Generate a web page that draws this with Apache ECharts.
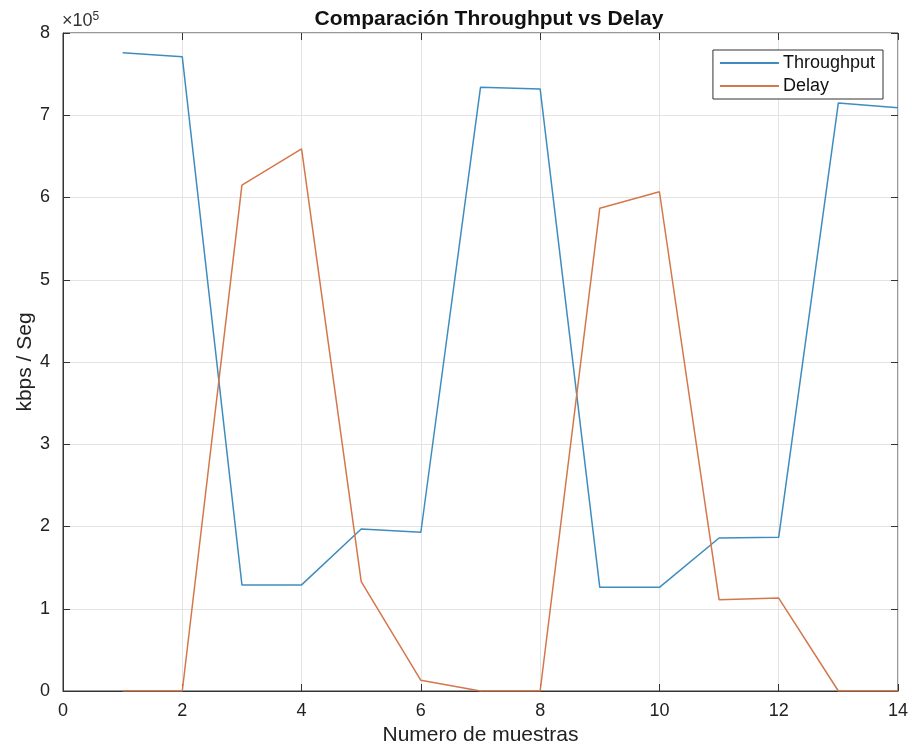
<!DOCTYPE html>
<html>
<head>
<meta charset="utf-8">
<script src="https://cdn.jsdelivr.net/npm/echarts@6/dist/echarts.min.js"></script>
<style>
  html, body { margin: 0; padding: 0; background: #fff; }
  #main { width: 912px; height: 753px; }
</style>
</head>
<body>
<div id="main"></div>
<script>
const samples = [1, 2, 3, 4, 5, 6, 7, 8, 9, 10, 11, 12, 13, 14];
const throughput = [776000, 771000, 129000, 129000, 197000, 193000, 734000, 732000, 126000, 126000, 186000, 187000, 715000, 709000];
const delay = [0, 0, 615000, 659000, 133000, 13000, 0, 0, 587000, 607000, 111000, 113000, 0, 0];
const xTicks = [0, 2, 4, 6, 8, 10, 12, 14];
const yTicks = [0, 1, 2, 3, 4, 5, 6, 7, 8];

const font = 'Liberation Sans, Arial, sans-serif';
const chart = echarts.init(document.getElementById('main'));

const pairs = (ys) => samples.map((x, i) => [x, ys[i]]);

// box axes on top/right: ticks only
const hiddenAxis = {
  axisLine: { show: false, onZero: false },
  axisLabel: { show: false },
  splitLine: { show: false },
  axisTick: { show: true, inside: true, length: 7, lineStyle: { color: '#333' } },
};

chart.setOption({
  animation: false,
  backgroundColor: '#fff',
  title: {
    text: 'Comparación Throughput vs Delay',
    left: 484,
    textAlign: 'center',
    top: 4,
    textStyle: { fontFamily: font, fontSize: 21, fontWeight: 'bold', color: '#111' },
  },
  legend: {
    right: 29,
    top: 50,
    orient: 'vertical',
    itemWidth: 59,
    itemHeight: 2,
    itemGap: 5,
    padding: [4, 8, 4, 7],
    backgroundColor: '#fff',
    borderColor: '#333',
    borderWidth: 1,
    icon: 'rect',
    textStyle: { fontFamily: font, fontSize: 18, color: '#111', padding: [0, 0, 0, -1] },
    data: ['Throughput', 'Delay'],
  },
  grid: {
    left: 63,
    right: 14,
    top: 33,
    bottom: 62,
    show: true,
    borderColor: '#333',
    borderWidth: 1,
  },
  graphic: [{
    type: 'text',
    left: 62,
    top: 11,
    style: {
      text: '×10{sup|5}',
      fontFamily: font,
      fontSize: 18,
      fill: '#333',
      rich: { sup: { fontSize: 12, verticalAlign: 'top', padding: [0, 0, 9, 0], fill: '#333' } },
    },
  }],
  xAxis: [{
    type: 'value',
    min: 0,
    max: 14,
    interval: 2,
    name: 'Numero de muestras',
    nameLocation: 'middle',
    nameMoveOverlap: false,
    nameGap: 34,
    nameTextStyle: { fontFamily: font, fontSize: 21, color: '#222' },
    axisLine: { show: true, onZero: false, lineStyle: { color: '#333' } },
    axisTick: { show: true, inside: true, length: 7, lineStyle: { color: '#333' } },
    axisLabel: {
      fontFamily: font, fontSize: 18, color: '#222', margin: 11,
      formatter: (v) => String(xTicks[Math.round(v / 2)]),
    },
    splitLine: { show: true, lineStyle: { color: '#e3e3e3' } },
  }, {
    type: 'value',
    position: 'top',
    min: 0,
    max: 14,
    interval: 2,
    ...hiddenAxis,
  }],
  yAxis: [{
    type: 'value',
    min: 0,
    max: 800000,
    interval: 100000,
    name: 'kbps / Seg',
    nameLocation: 'middle',
    nameMoveOverlap: false,
    nameGap: 27,
    nameTextStyle: { fontFamily: font, fontSize: 21, color: '#222' },
    axisLine: { show: true, onZero: false, lineStyle: { color: '#333' } },
    axisTick: { show: true, inside: true, length: 7, lineStyle: { color: '#333' } },
    axisLabel: {
      fontFamily: font, fontSize: 18, color: '#222', margin: 13,
      formatter: (v) => String(yTicks[Math.round(v / 100000)]),
    },
    splitLine: { show: true, lineStyle: { color: '#e3e3e3' } },
  }, {
    type: 'value',
    position: 'right',
    min: 0,
    max: 800000,
    interval: 100000,
    ...hiddenAxis,
  }],
  series: [
    {
      name: 'Throughput',
      type: 'line',
      data: pairs(throughput),
      symbol: 'none',
      color: '#3f8dbf',
      lineStyle: { width: 1.5, color: '#3f8dbf' },
    },
    {
      name: 'Delay',
      type: 'line',
      data: pairs(delay),
      symbol: 'none',
      color: '#d4774c',
      lineStyle: { width: 1.5, color: '#d4774c' },
    },
  ],
});
</script>
</body>
</html>
